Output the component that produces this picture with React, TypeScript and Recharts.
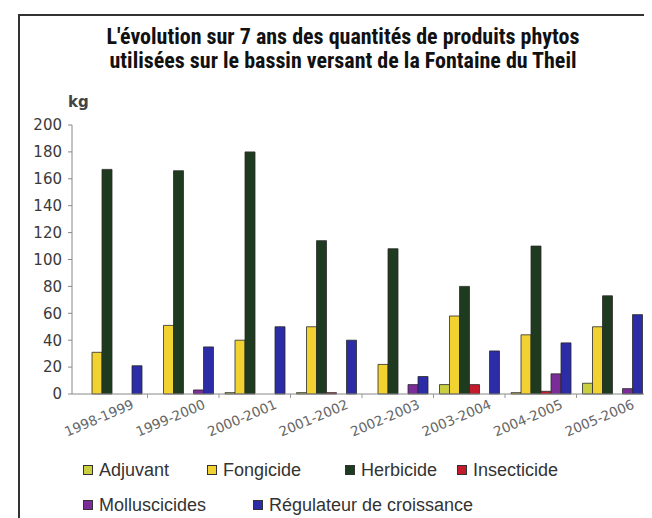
import React from 'react';
import { BarChart, Bar, XAxis, YAxis } from 'recharts';

const categories = ['1998-1999', '1999-2000', '2000-2001', '2001-2002', '2002-2003', '2003-2004', '2004-2005', '2005-2006'];
const adjuvant = [0, 0, 1, 1, 0, 7, 1, 8];
const fongicide = [31, 51, 40, 50, 22, 58, 44, 50];
const herbicide = [167, 166, 180, 114, 108, 80, 110, 73];
const insecticide = [0, 0, 0, 1, 0, 7, 2, 0];
const molluscicides = [0, 3, 0, 0, 7, 0, 15, 4];
const regulateur = [21, 35, 50, 40, 13, 32, 38, 59];
const yTicks = [0, 20, 40, 60, 80, 100, 120, 140, 160, 180, 200];

const seriesNames = ['Adjuvant', 'Fongicide', 'Herbicide', 'Insecticide', 'Molluscicides', 'Régulateur de croissance'];
const seriesKeys = ['adjuvant', 'fongicide', 'herbicide', 'insecticide', 'molluscicides', 'regulateur'];
const seriesColors = ['#c9cf3e', '#f1d230', '#1f3b1f', '#c41a2c', '#7a2c98', '#2b2ca6'];

const data = categories.map((c, i) => ({
  name: c,
  adjuvant: adjuvant[i],
  fongicide: fongicide[i],
  herbicide: herbicide[i],
  insecticide: insecticide[i],
  molluscicides: molluscicides[i],
  regulateur: regulateur[i],
}));

// legend layout (style only)
const legendPos = [
  { left: 75, top: 450 },
  { left: 199, top: 450 },
  { left: 337, top: 450 },
  { left: 449, top: 450 },
  { left: 75, top: 485 },
  { left: 245, top: 485 },
];

const XTick = (props: any) => {
  const { x, y, payload, index } = props;
  return (
    <g>
      {index < categories.length - 1 && (
        <line x1={x + 35.75} x2={x + 35.75} y1={y} y2={y + 4} stroke="#999" strokeWidth={1} />
      )}
      <text
        transform={`translate(${x + 23},${y + 14}) rotate(-23)`}
        textAnchor="end"
        fontFamily="DejaVu Sans, sans-serif"
        fontSize={13.5}
        fill="#666"
      >
        {payload.value}
      </text>
    </g>
  );
};

const LegendBlock = () => (
  <>
    {seriesNames.map((n, i) => (
      <div
        key={n}
        style={{
          position: 'absolute',
          left: legendPos[i].left,
          top: legendPos[i].top,
          display: 'flex',
          alignItems: 'center',
          whiteSpace: 'nowrap',
          fontFamily: 'Liberation Sans, Arial, sans-serif',
          fontSize: 18,
          color: '#333',
          lineHeight: '24px',
        }}
      >
        <span
          style={{
            display: 'inline-block',
            width: 8,
            height: 8,
            background: seriesColors[i],
            border: '1px solid #333',
            marginRight: 6,
          }}
        />
        {n}
      </div>
    ))}
  </>
);

export default function App() {
  return (
    <div style={{ position: 'relative', width: 644, height: 510, background: '#fff', overflow: 'hidden' }}>
      <div
        style={{
          position: 'absolute',
          left: 10,
          top: 6,
          width: 640,
          height: 600,
          borderLeft: '2px solid #333',
          borderTop: '2px solid #333',
        }}
      />
      <div
        style={{
          position: 'absolute',
          left: 0,
          width: 670,
          top: 17,
          textAlign: 'center',
          fontFamily: 'Liberation Sans Narrow, Roboto Condensed, Arial Narrow, sans-serif',
          fontWeight: 'bold',
          fontSize: 22,
          lineHeight: '24px',
          color: '#111',
        }}
      >
        L'évolution sur 7 ans des quantités de produits phytos
        <br />
        utilisées sur le bassin versant de la Fontaine du Theil
      </div>
      <div
        style={{
          position: 'absolute',
          left: 60,
          top: 85,
          fontFamily: 'DejaVu Sans, sans-serif',
          fontWeight: 'bold',
          fontSize: 15,
          color: '#444',
        }}
      >
        kg
      </div>
      <div style={{ position: 'absolute', left: 0, top: 0 }}>
        <BarChart
          width={644}
          height={510}
          data={data}
          margin={{ top: 117, right: 4, bottom: 94, left: 0 }}
          barCategoryGap={6}
          barGap={0}
        >
          <XAxis
            dataKey="name"
            interval={0}
            tick={<XTick />}
            tickLine={false}
            tickSize={0}
            tickMargin={0}
            height={30}
            axisLine={{ stroke: '#888' }}
            padding={{ left: 4, right: 0 }}
          />
          <YAxis
            width={64}
            domain={[0, 200]}
            ticks={yTicks}
            interval={0}
            tickSize={4}
            tickMargin={6}
            axisLine={{ stroke: '#888' }}
            tickLine={{ stroke: '#888' }}
            tick={{ fontFamily: 'DejaVu Sans, sans-serif', fontSize: 15, fill: '#3a3a3a' }}
          />
          {seriesKeys.map((k, i) => (
            <Bar
              key={k}
              dataKey={k}
              name={seriesNames[i]}
              fill={seriesColors[i]}
              stroke="#2a2a2a"
              strokeWidth={0.8}
              isAnimationActive={false}
            />
          ))}
        </BarChart>
      </div>
      <LegendBlock />
    </div>
  );
}
